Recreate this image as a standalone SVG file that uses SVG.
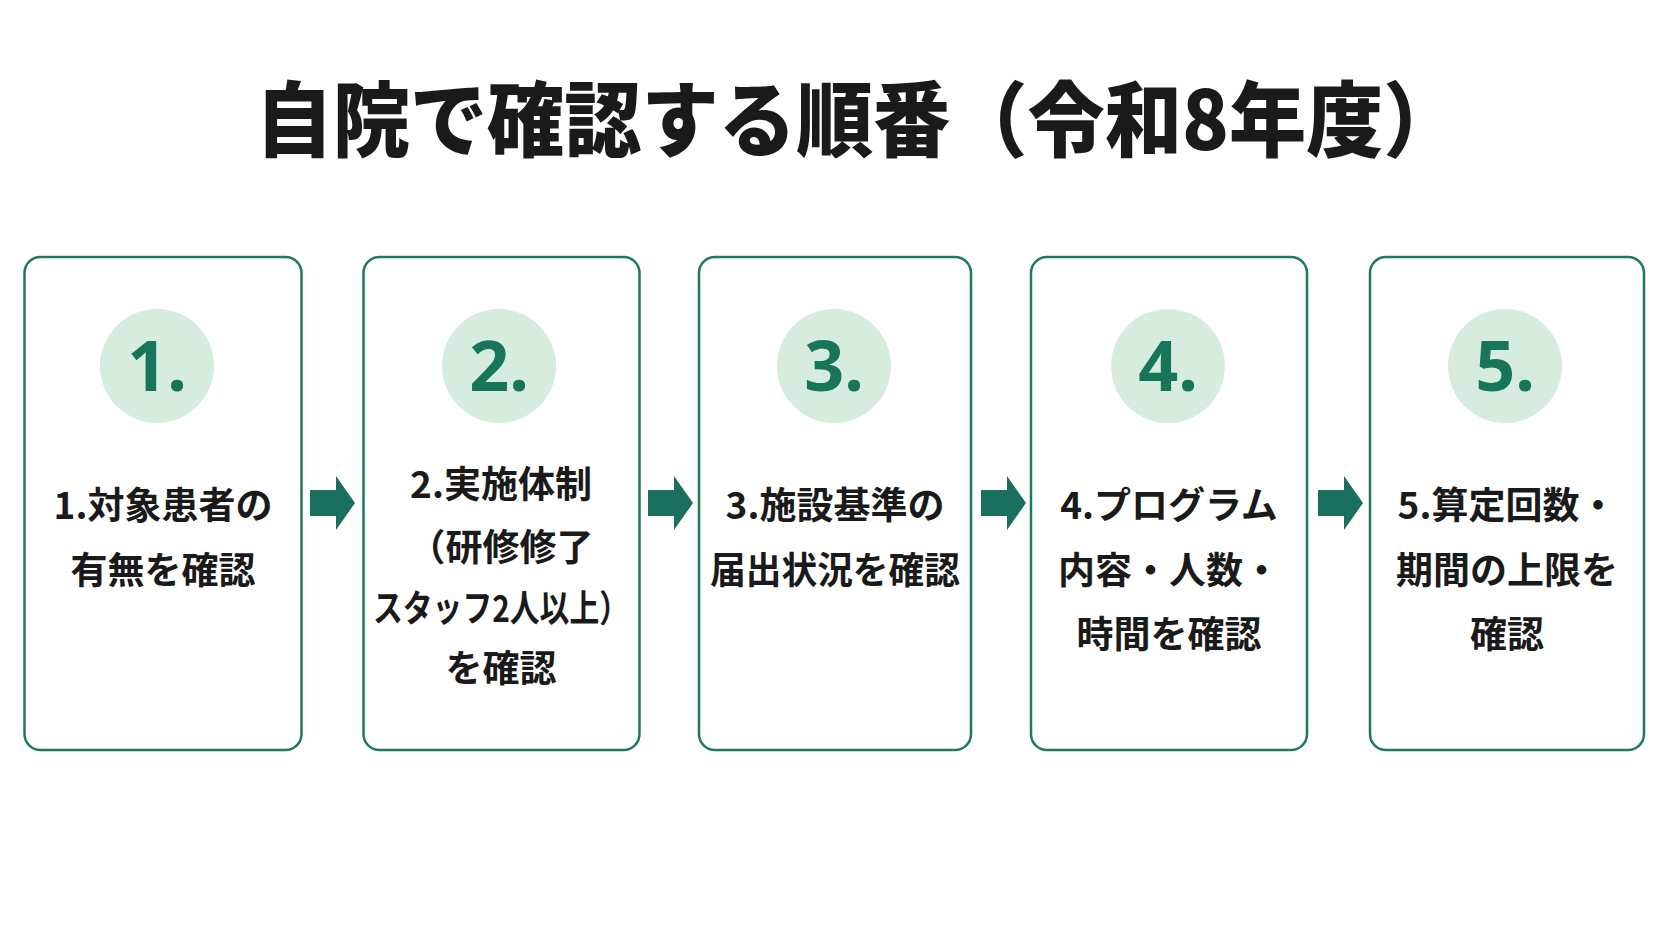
<svg xmlns="http://www.w3.org/2000/svg" width="1672" height="941" viewBox="0 0 1672 941">
<style>
.box{fill:#fff;stroke:#1f7a5a;stroke-width:2.5}
.circ{fill:#d5ecdf}
.num{font-family:"Noto Sans","Noto Sans CJK JP",sans-serif;font-weight:700;font-size:70px;fill:#17765a;text-anchor:middle}
.lbl{font-family:"Noto Sans CJK JP",sans-serif;font-weight:700;font-size:37px;fill:#1a1a1a;text-anchor:middle;dominant-baseline:central}
.arr{fill:#1b6f5e}
</style>
<rect width="1672" height="941" fill="#fff"/>
<text x="858" y="150" font-family="Noto Sans CJK JP, sans-serif" font-weight="900" font-size="82" fill="#1a1a1a" text-anchor="middle" textLength="1205" lengthAdjust="spacingAndGlyphs">自院で確認する順番（令和8年度）</text>
<g id="node1"><rect class="box" x="24.5" y="257" width="277" height="493" rx="16"/><circle class="circ" cx="157" cy="366" r="57"/><text class="num" x="157" y="391">1.</text><text class="lbl" x="163" y="503">1.対象患者の</text><text class="lbl" x="163" y="568">有無を確認</text></g>
<g id="node2"><rect class="box" x="363.5" y="257" width="276" height="493" rx="16"/><circle class="circ" cx="499" cy="366" r="57"/><text class="num" x="499" y="391">2.</text><text class="lbl" x="501" y="482">2.実施体制</text><text class="lbl" x="501" y="545">（研修修了</text><text class="lbl" x="501" y="606" textLength="256" lengthAdjust="spacingAndGlyphs">スタッフ2人以上）</text><text class="lbl" x="501" y="666">を確認</text></g>
<g id="node3"><rect class="box" x="699" y="257" width="272" height="493" rx="16"/><circle class="circ" cx="834" cy="366" r="57"/><text class="num" x="834" y="391">3.</text><text class="lbl" x="835" y="503">3.施設基準の</text><text class="lbl" x="835" y="568" textLength="250" lengthAdjust="spacingAndGlyphs">届出状況を確認</text></g>
<g id="node4"><rect class="box" x="1031" y="257" width="276" height="493" rx="16"/><circle class="circ" cx="1168" cy="366" r="57"/><text class="num" x="1168" y="391">4.</text><text class="lbl" x="1169" y="503">4.プログラム</text><text class="lbl" x="1169" y="568">内容・人数・</text><text class="lbl" x="1169" y="632">時間を確認</text></g>
<g id="node5"><rect class="box" x="1370" y="257" width="274" height="493" rx="16"/><circle class="circ" cx="1505" cy="366" r="57"/><text class="num" x="1505" y="391">5.</text><text class="lbl" x="1507" y="503">5.算定回数・</text><text class="lbl" x="1507" y="568">期間の上限を</text><text class="lbl" x="1507" y="632">確認</text></g>
<g id="connectors">
<polygon class="arr" points="310,490 336,490 336,476 355,503 336,530 336,516 310,516"/>
<polygon class="arr" points="648,490 674,490 674,476 693,503 674,530 674,516 648,516"/>
<polygon class="arr" points="981,490 1007,490 1007,476 1026,503 1007,530 1007,516 981,516"/>
<polygon class="arr" points="1318,490 1344,490 1344,476 1363,503 1344,530 1344,516 1318,516"/>
</g>
</svg>
